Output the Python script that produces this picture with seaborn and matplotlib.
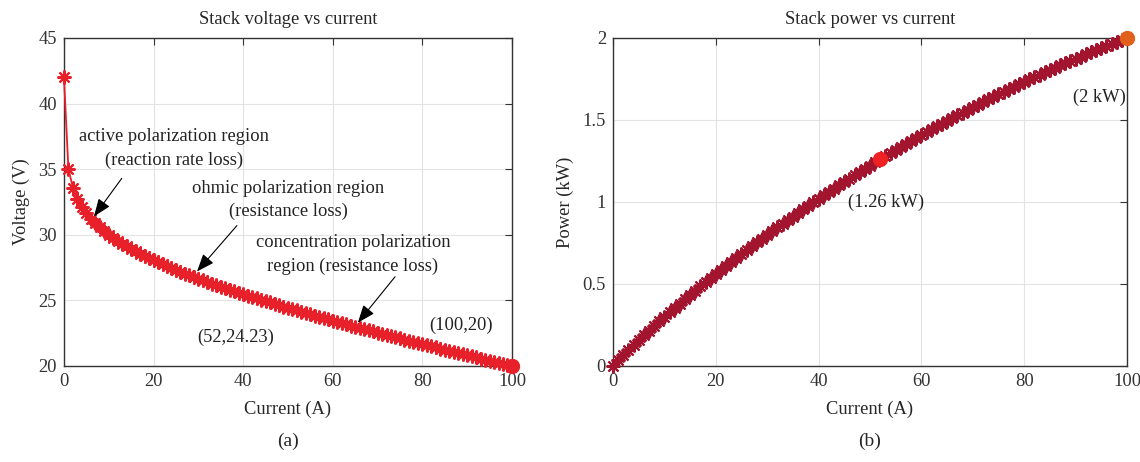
import seaborn as sns
import matplotlib.pyplot as plt
import pandas as pd

# stack current (A), one point per ampere
current = list(range(0, 101))
# stack voltage (V)
voltage = [42.00, 35.00, 33.60, 32.76, 32.14, 31.65, 31.24, 30.88, 30.56, 30.27,
           30.00, 29.76, 29.53, 29.31, 29.11, 28.91, 28.73, 28.55, 28.38, 28.21,
           28.05, 27.89, 27.74, 27.59, 27.45, 27.31, 27.17, 27.04, 26.91, 26.78,
           26.65, 26.52, 26.40, 26.28, 26.16, 26.04, 25.93, 25.81, 25.70, 25.59,
           25.48, 25.37, 25.26, 25.15, 25.04, 24.94, 24.84, 24.73, 24.63, 24.53,
           24.43, 24.33, 24.23, 24.13, 24.03, 23.93, 23.84, 23.74, 23.65, 23.55,
           23.46, 23.36, 23.27, 23.18, 23.08, 22.99, 22.90, 22.81, 22.72, 22.63,
           22.54, 22.45, 22.36, 22.27, 22.19, 22.10, 22.01, 21.92, 21.84, 21.75,
           21.66, 21.58, 21.49, 21.41, 21.32, 21.24, 21.15, 21.07, 20.99, 20.90,
           20.82, 20.73, 20.65, 20.57, 20.49, 20.40, 20.32, 20.24, 20.16, 20.08,
           20.00]

# highlighted operating points
mid_current, mid_voltage, mid_power = 52, 24.23, 1.26
max_current, max_voltage, max_power = 100, 20.0, 2.0

df = pd.DataFrame({"current": current, "voltage": voltage})
df["power"] = df["current"] * df["voltage"] / 1000.0  # kW

sns.set_theme(style="whitegrid")
plt.rcParams["font.family"] = ["Liberation Serif", "DejaVu Serif"]
plt.rcParams["axes.edgecolor"] = "#333333"
plt.rcParams["grid.color"] = "#e3e3e3"
plt.rcParams["grid.linewidth"] = 0.8

fig = plt.figure(figsize=(11.4, 4.62), dpi=100)
ax1 = fig.add_axes([0.0561, 0.2078, 0.393, 0.710])
ax2 = fig.add_axes([0.5377, 0.2078, 0.4509, 0.710])

red = "#e8202a"
dark_red = "#a3152f"
fs = 13.3
asterisk = (8, 2, 0)  # matlab-like '*' marker

# panel (a): voltage
sns.lineplot(data=df, x="current", y="voltage", ax=ax1, color=red, lw=1.3,
             marker=asterisk, markersize=10, markeredgewidth=1.5,
             markeredgecolor=red, markerfacecolor=red, zorder=3, clip_on=False)
ax1.plot([max_current], [max_voltage], "o", color=red, markersize=10, zorder=4,
         clip_on=False)
ax1.set_xlim(0, 100)
ax1.set_ylim(20, 45)
ax1.set_xticks(range(0, 101, 20))
ax1.set_yticks(range(20, 46, 5))
ax1.set_xlabel("Current (A)", fontsize=fs, labelpad=8)
ax1.set_ylabel("Voltage (V)", fontsize=fs, labelpad=6)
ax1.set_title("Stack voltage vs current", fontsize=fs, pad=10)

txt = dict(fontsize=fs, ha="center", va="center", color="#222222")
arrow = dict(arrowstyle="-|>,head_length=0.9,head_width=0.35", color="black",
             lw=0.8, shrinkA=0, shrinkB=0)
ax1.text(24.5, 37.5, "active polarization region", **txt)
ax1.text(24.5, 35.7, "(reaction rate loss)", **txt)
ax1.annotate("", xy=(6.7, 31.4), xytext=(12.9, 34.3), arrowprops=arrow)
ax1.text(50, 33.5, "ohmic polarization region", **txt)
ax1.text(50, 31.8, "(resistance loss)", **txt)
ax1.annotate("", xy=(29.7, 27.2), xytext=(38.6, 30.7), arrowprops=arrow)
ax1.text(64.5, 29.4, "concentration polarization", **txt)
ax1.text(64.5, 27.6, "region (resistance loss)", **txt)
ax1.annotate("", xy=(65.6, 23.3), xytext=(73.9, 26.8), arrowprops=arrow)
ax1.text(38.4, 22.2, f"({mid_current},{mid_voltage})", **txt)
ax1.text(88.6, 23.1, f"({max_current},{max_voltage:g})", **txt)

# panel (b): power
sns.lineplot(data=df, x="current", y="power", ax=ax2, color=dark_red, lw=1.3,
             marker=asterisk, markersize=10, markeredgewidth=1.5,
             markeredgecolor=dark_red, markerfacecolor=dark_red, zorder=3,
             clip_on=False)
ax2.plot([mid_current], [mid_power], "o", color="#ee2222", markersize=10, zorder=4)
ax2.plot([max_current], [max_power], "o", color="#e0601c", markersize=10,
         zorder=4, clip_on=False)
ax2.set_xlim(0, 100)
ax2.set_ylim(0, 2)
ax2.set_xticks(range(0, 101, 20))
ax2.set_yticks([0, 0.5, 1, 1.5, 2])
ax2.set_yticklabels(["0", "0.5", "1", "1.5", "2"])
ax2.set_xlabel("Current (A)", fontsize=fs, labelpad=8)
ax2.set_ylabel("Power (kW)", fontsize=fs, labelpad=6)
ax2.set_title("Stack power vs current", fontsize=fs, pad=10)
ax2.text(53.1, 1.0, f"({mid_power} kW)", **txt)
ax2.text(94.7, 1.64, f"({max_power:g} kW)", **txt)

for ax in (ax1, ax2):
    ax.tick_params(direction="in", length=5, width=0.8, top=True, right=True,
                   labelsize=fs, colors="#333333", pad=5)
    for s in ax.spines.values():
        s.set_linewidth(1.0)
    ax.grid(True)

fig.text(0.0561 + 0.393 / 2, 0.045, "(a)", ha="center", va="center", fontsize=14)
fig.text(0.5377 + 0.4509 / 2, 0.045, "(b)", ha="center", va="center", fontsize=14)

fig.savefig("out.png", dpi=100)
